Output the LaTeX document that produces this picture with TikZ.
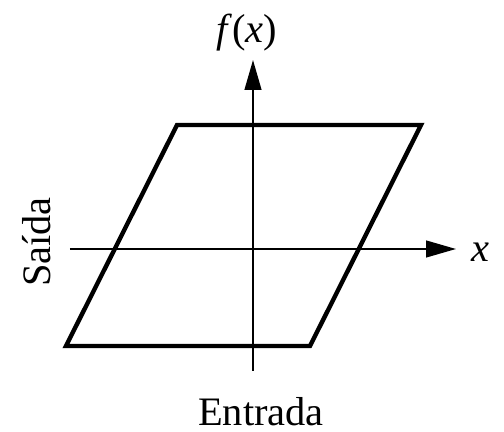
\documentclass[tikz,border=0pt]{standalone}
\usepackage{fontspec}
\setmainfont{Liberation Serif}
\usepackage{tikz}
\usetikzlibrary{arrows.meta, positioning}

\begin{document}
\begin{tikzpicture}[font=\fontsize{23}{27}\selectfont,
	eixo/.style={line width=1.15pt, -{Triangle[length=17pt, width=9.5pt]}},
	laco/.style={line width=2.5pt, line join=miter}]
	\useasboundingbox (-5.06,-3.66) rectangle (5.02,4.98);
	% eixos
	\coordinate (xa) at (-3.66,0);
	\coordinate (xb) at (4.06,0);
	\coordinate (ya) at (0,-2.44);
	\coordinate (yb) at (0,3.78);
	\draw[eixo] (xa) -- (xb);
	\draw[eixo] (ya) -- (yb);
	\node (lx) at (4.54,-0.06) {\textit{x}};
	\node[anchor=base] (lf) at (-0.12,4.12) {\textit{f}(\textit{x})};
	% laco de histerese
	\coordinate (bl) at (-3.74,-1.94);
	\coordinate (br) at (1.14,-1.94);
	\coordinate (tr) at (3.36,2.48);
	\coordinate (tl) at (-1.52,2.48);
	\draw[laco] (bl) -- (br) -- (tr) -- (tl) -- cycle;
	\node[rotate=90] (saida) at (-4.32,0.14) {Saída};
	\node[anchor=base] (entrada) at (0.16,-3.52) {Entrada};
\end{tikzpicture}
\end{document}
